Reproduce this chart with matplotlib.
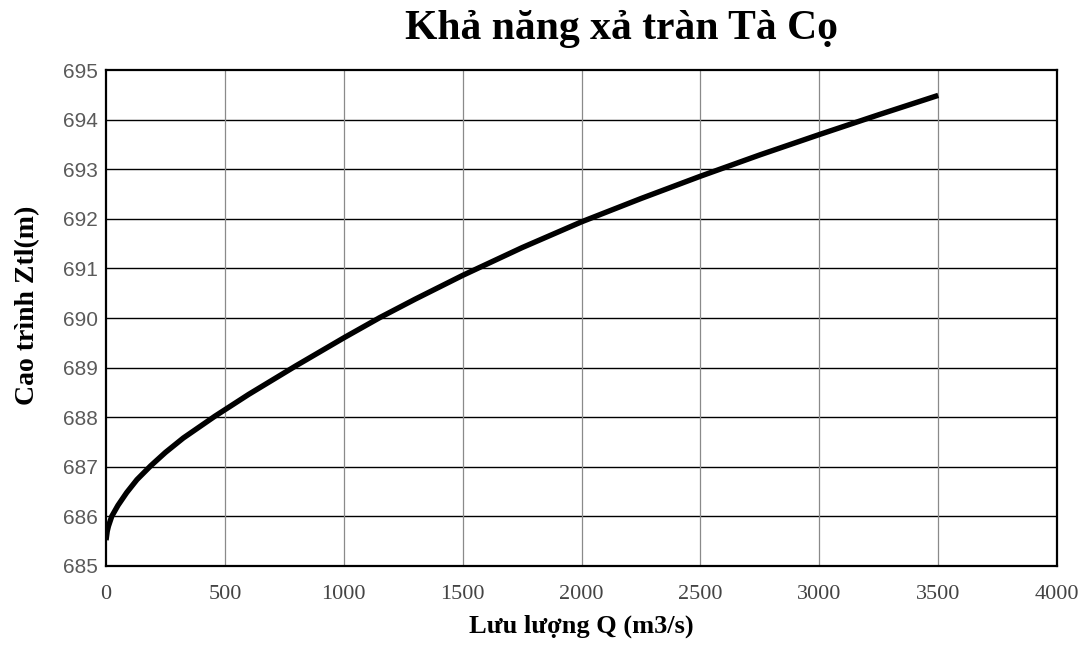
import matplotlib.pyplot as plt
import numpy as np

# values
luu_luong = [0, 5, 10, 24, 50, 87, 130, 188, 250, 325, 458, 600, 800, 1000, 1152,
             1300, 1500, 1750, 2000, 2250, 2500, 2750, 3000, 3250, 3500]
cao_trinh = [685.52, 685.7, 685.8, 686.0, 686.22, 686.48, 686.74, 687.02, 687.29, 687.58,
             688.02, 688.46, 689.04, 689.6, 690.01, 690.38, 690.86, 691.42, 691.94, 692.41,
             692.86, 693.29, 693.7, 694.1, 694.49]
x_ticks = [0, 500, 1000, 1500, 2000, 2500, 3000, 3500, 4000]
y_ticks = list(range(685, 696))

fig = plt.figure(figsize=(10.82, 6.49), dpi=100)
ax = fig.add_axes([0.098, 0.128, 0.879, 0.764])

ax.plot(luu_luong, cao_trinh, color='black', linewidth=3.9, solid_capstyle='butt',
        solid_joinstyle='round', zorder=3)

ax.set_xlim(0, 4000)
ax.set_ylim(685, 695)
ax.set_xticks(x_ticks)
ax.set_yticks(y_ticks)

for y in y_ticks[1:-1]:
    ax.axhline(y, color='black', linewidth=1.0, zorder=1)
for x in x_ticks[1:-1]:
    ax.axvline(x, color='#8a8a8a', linewidth=0.9, zorder=1)

for s in ax.spines.values():
    s.set_linewidth(1.6)
    s.set_color('black')

ax.tick_params(axis='x', length=0, pad=14)
ax.tick_params(axis='y', length=0, pad=6)
for t in ax.get_yticklabels():
    t.set_fontfamily('Liberation Sans')
    t.set_fontsize(15)
    t.set_color('#5a5a5a')
for t in ax.get_xticklabels():
    t.set_fontfamily('Liberation Serif')
    t.set_fontsize(16)
    t.set_color('#444444')

ax.set_xlabel('Lưu lượng Q (m3/s)', fontfamily='Liberation Serif', fontweight='bold', fontsize=19)
ax.set_ylabel('Cao trình Ztl(m)', fontfamily='Liberation Serif', fontweight='bold', fontsize=20)
ax.xaxis.set_label_coords(0.5, -0.121)
ax.xaxis.label.set_va('center')
ax.yaxis.set_label_coords(-0.082, 0.526)
ax.yaxis.label.set_va('center')

fig.text(0.574, 0.94, 'Khả năng xả tràn Tà Cọ', fontfamily='Liberation Serif', fontweight='bold',
         fontsize=30, ha='center', va='baseline')

plt.savefig('out.png', dpi=100)
